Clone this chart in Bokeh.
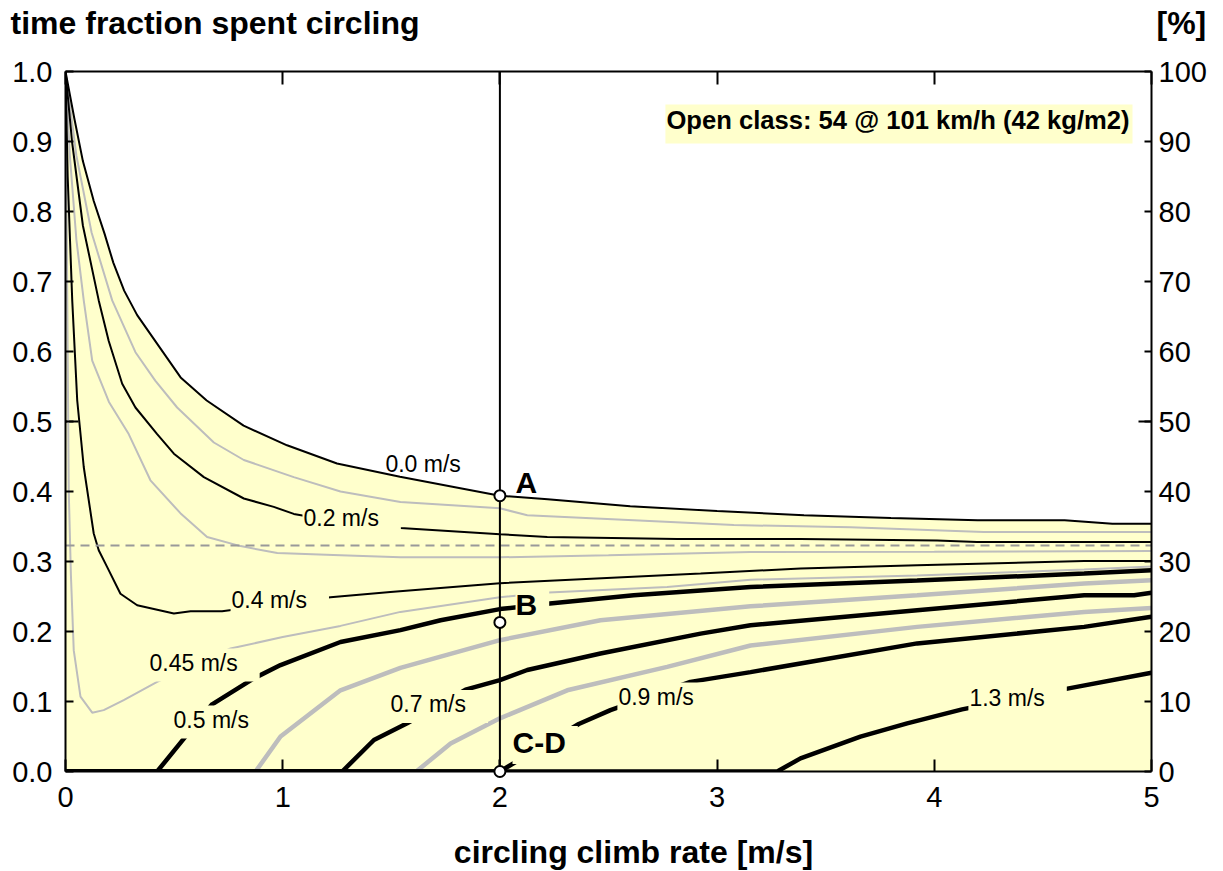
from math import pi
from bokeh.plotting import figure
from bokeh.models import Range1d, LinearAxis, FixedTicker, PrintfTickFormatter
from bokeh.core.properties import value
from bokeh.embed import file_html
from bokeh.resources import INLINE

FONT = "Liberation Sans"
FILL = "#FFFFCC"
GRAY = "#BDBDBD"

# ---------------- data ----------------
x_ticks = [0, 1, 2, 3, 4, 5]
y_ticks = [0.0, 0.1, 0.2, 0.3, 0.4, 0.5, 0.6, 0.7, 0.8, 0.9, 1.0]
pct_ticks = [0, 10, 20, 30, 40, 50, 60, 70, 80, 90, 100]
long_y_ticks = [0.5]

# 0.0 m/s (upper boundary of the shaded region)
x_00 = [0, 0.04, 0.08, 0.13, 0.18, 0.22, 0.27, 0.33, 0.53, 0.65, 0.82, 1.02, 1.25, 1.54, 1.83, 2.0, 2.22, 2.6, 3.0, 3.4, 3.8, 4.2, 4.6, 4.82, 5.0]
y_00 = [1.0, 0.934, 0.872, 0.815, 0.768, 0.727, 0.687, 0.652, 0.563, 0.530, 0.494, 0.466, 0.440, 0.421, 0.404, 0.394, 0.389, 0.379, 0.372, 0.366, 0.362, 0.359, 0.359, 0.354, 0.354]
# 0.1 m/s
x_01 = [0, 0.05, 0.12, 0.215, 0.322, 0.414, 0.514, 0.683, 0.821, 1.051, 1.266, 1.542, 2.0, 2.126, 2.616, 3.077, 3.614, 4.228, 5.0]
y_01 = [1.0, 0.88, 0.77, 0.673, 0.599, 0.558, 0.520, 0.470, 0.445, 0.4205, 0.40, 0.385, 0.376, 0.366, 0.359, 0.352, 0.349, 0.342, 0.342]
# 0.2 m/s
x_02 = [0, 0.03, 0.08, 0.153, 0.199, 0.261, 0.322, 0.422, 0.499, 0.637, 0.821, 0.959, 1.051, 1.25, 1.542, 2.0, 2.218, 2.816, 3.384, 4.013, 4.197, 5.0]
y_02 = [1.0, 0.9, 0.78, 0.673, 0.615, 0.554, 0.520, 0.482, 0.454, 0.4205, 0.39, 0.378, 0.368, 0.357, 0.348, 0.339, 0.335, 0.332, 0.332, 0.330, 0.328, 0.328]
# 0.3 m/s
x_03 = [0, 0.02, 0.05, 0.084, 0.123, 0.2, 0.291, 0.391, 0.529, 0.652, 0.806, 0.975, 1.266, 1.542, 2.0, 2.5, 3.154, 4.0, 5.0]
y_03 = [1.0, 0.88, 0.76, 0.673, 0.587, 0.528, 0.482, 0.416, 0.369, 0.335, 0.322, 0.312, 0.309, 0.306, 0.306, 0.309, 0.3135, 0.314, 0.315]
# 0.4 m/s
x_04 = [0, 0.01, 0.031, 0.054, 0.084, 0.13, 0.153, 0.192, 0.253, 0.33, 0.499, 0.576, 0.721, 1.22, 1.496, 2.0, 2.924, 3.384, 3.921, 4.69, 5.0]
y_04 = [1.0, 0.85, 0.673, 0.53, 0.435, 0.34, 0.316, 0.292, 0.254, 0.2375, 0.2257, 0.229, 0.229, 0.249, 0.2565, 0.269, 0.2827, 0.29, 0.2946, 0.3007, 0.3007]
# 0.45 m/s
x_045 = [0, 0.005, 0.01, 0.015, 0.025, 0.038, 0.069, 0.123, 0.176, 0.268, 0.422, 0.76, 1.0, 1.266, 1.542, 2.0, 2.225, 2.77, 3.154, 3.921, 4.69, 5.0]
y_045 = [1.0, 0.8, 0.6, 0.4, 0.28, 0.173, 0.107, 0.084, 0.0877, 0.102, 0.128, 0.1757, 0.192, 0.208, 0.228, 0.249, 0.2556, 0.2636, 0.274, 0.280, 0.2884, 0.293]
# 0.5 m/s
x_05 = [0, 0.422, 0.545, 0.675, 0.867, 0.99, 1.266, 1.542, 1.727, 2.0, 2.23, 2.616, 3.154, 3.921, 4.69, 5.0]
y_05 = [0.0, 0.0, 0.047, 0.096, 0.133, 0.152, 0.185, 0.202, 0.216, 0.232, 0.24, 0.2518, 0.2636, 0.273, 0.2827, 0.2874]
# 0.6 m/s
x_06 = [0, 0.875, 0.99, 1.266, 1.542, 1.727, 2.0, 2.463, 3.154, 3.921, 4.69, 5.0]
y_06 = [0.0, 0.0, 0.05, 0.116, 0.148, 0.164, 0.1876, 0.216, 0.236, 0.2518, 0.2685, 0.2732]
# 0.7 m/s
x_07 = [0, 1.274, 1.42, 1.573, 1.842, 2.0, 2.126, 2.463, 2.924, 3.154, 3.921, 4.69, 4.92, 5.0]
y_07 = [0.0, 0.0, 0.045, 0.069, 0.117, 0.1305, 0.145, 0.1686, 0.197, 0.209, 0.2304, 0.2518, 0.2518, 0.2553]
# 0.8 m/s
x_08 = [0, 1.615, 1.773, 2.0, 2.31, 2.77, 3.154, 3.921, 4.69, 5.0]
y_08 = [0.0, 0.0, 0.040, 0.0759, 0.116, 0.1495, 0.180, 0.2066, 0.228, 0.2336]
# 0.9 m/s
x_09 = [0, 2.0, 2.363, 2.509, 2.877, 3.154, 3.921, 4.69, 5.0]
y_09 = [0.0, 0.0, 0.0678, 0.0877, 0.128, 0.142, 0.183, 0.2066, 0.221]
# 1.3 m/s
x_13 = [0, 3.277, 3.384, 3.66, 3.875, 4.128, 4.619, 5.0]
y_13 = [0.0, 0.0, 0.0188, 0.0497, 0.0688, 0.0887, 0.1187, 0.141]

dash_y = 0.323          # horizontal reference level
sel_x = 2.0             # selected circling climb rate
marker_x = [2.0, 2.0, 2.0]
marker_y = [0.394, 0.213, 0.0]

# ---------------- figure ----------------
p = figure(width=1223, height=871, x_range=Range1d(0, 5), y_range=Range1d(0, 1),
           output_backend="svg", toolbar_location=None,
           min_border_left=65, min_border_right=72, min_border_top=71, min_border_bottom=100)
p.outline_line_color = None
p.xgrid.visible = False
p.ygrid.visible = False
p.background_fill_color = "white"
p.border_fill_color = "white"

def style_axis(ax, tick_in, show_labels=True, standoff=10):
    ax.axis_line_width = 2
    ax.axis_line_color = "black"
    ax.major_tick_line_width = 2
    ax.major_tick_line_color = "black"
    ax.major_tick_in = tick_in
    ax.major_tick_out = 0
    ax.minor_tick_line_color = None
    ax.major_label_standoff = standoff
    ax.major_label_text_font = FONT
    ax.major_label_text_font_size = "29px"
    ax.major_label_text_color = "black" if show_labels else None

xa = p.xaxis[0]
xa.ticker = FixedTicker(ticks=x_ticks)
style_axis(xa, 12, standoff=15)

ya = p.yaxis[0]
ya.ticker = FixedTicker(ticks=y_ticks)
ya.formatter = PrintfTickFormatter(format="%.1f")
style_axis(ya, 8, standoff=13)

p.extra_y_ranges = {"pct": Range1d(0, 100)}
ra = LinearAxis(y_range_name="pct", ticker=FixedTicker(ticks=pct_ticks))
style_axis(ra, 7, standoff=7)
p.add_layout(ra, "right")

ta = LinearAxis(ticker=FixedTicker(ticks=x_ticks))
style_axis(ta, 13, show_labels=False)
ta.major_label_text_font_size = "0px"
p.add_layout(ta, "above")

# shaded region
p.varea(x=x_00, y1=[0] * len(x_00), y2=y_00, fill_color=FILL)

# long ticks at 0.5 / 50 %
p.ray(x=[0] * len(long_y_ticks), y=long_y_ticks, length=13, length_units="screen",
      angle=0, line_color="black", line_width=2)
p.ray(x=[5] * len(long_y_ticks), y=long_y_ticks, length=13, length_units="screen",
      angle=pi, line_color="black", line_width=2)

# gray curves
for xs, ys, w in [(x_01, y_01, 2), (x_03, y_03, 2), (x_045, y_045, 2),
                  (x_06, y_06, 4.5), (x_08, y_08, 4.5)]:
    p.line(xs, ys, line_color=GRAY, line_width=w)
# black curves
for xs, ys, w in [(x_00, y_00, 2), (x_02, y_02, 2), (x_04, y_04, 2),
                  (x_05, y_05, 4.5), (x_07, y_07, 4.5), (x_09, y_09, 4.5), (x_13, y_13, 4.5)]:
    p.line(xs, ys, line_color="black", line_width=w)

# dashed reference line and vertical selection line
p.line([0, 5], [dash_y, dash_y], line_color="#999999", line_width=2, line_dash="9 6")
p.line([sel_x, sel_x], [0, 1], line_color="black", line_width=2)

# curve labels with masking background
bg_labels = [("0.2 m/s", 1.091, 0.359), ("0.4 m/s", 0.760, 0.242), ("0.45 m/s", 0.382, 0.152),
             ("0.5 m/s", 0.493, 0.0706), ("0.7 m/s", 1.492, 0.0927), ("0.9 m/s", 2.541, 0.1034),
             ("1.3 m/s", 4.157, 0.102)]
p.text(x=[b[1] for b in bg_labels], y=[b[2] for b in bg_labels], text=[b[0] for b in bg_labels],
       text_font=value(FONT), text_font_size="23px", text_color="black",
       text_align="left", text_baseline="middle",
       background_fill_color=FILL, padding=(1, 22, 1, 6))
p.text(x=[1.473], y=[0.440], text=["0.0 m/s"], text_font=value(FONT), text_font_size="23px",
       text_color="black", text_align="left", text_baseline="middle")

# point letters
p.text(x=[2.072], y=[0.413], text=["A"], text_font=value(FONT), text_font_size="30px",
       text_font_style="bold", text_color="black", text_align="left", text_baseline="middle")
p.text(x=[2.072, 2.058], y=[0.2347, 0.038], text=["B", "C-D"], text_font=value(FONT),
       text_font_size="30px", text_font_style="bold", text_color="black",
       text_align="left", text_baseline="middle",
       background_fill_color=FILL, padding=(0, 12, 0, 5))

pts = p.scatter(marker_x, marker_y, size=11, fill_color="white", line_color="black", line_width=2)
pts.level = "overlay"

# info box
p.text(x=[2.762], y=[0.925], text=["Open class: 54 @ 101 km/h (42 kg/m2)"],
       text_font=value(FONT), text_font_size="25.6px", text_font_style="bold", text_color="black",
       text_baseline="middle", text_align="left",
       background_fill_color=FILL, padding=(1, 3, 1, 10))

# titles as text glyphs at overlay level (not clipped to the frame)
for tx, ty, tt, tal in [(-0.253, 1.069, "time fraction spent circling", "left"),
                        (5.023, 1.069, "[%]", "left"),
                        (2.615, -0.115, "circling climb rate [m/s]", "center")]:
    r = p.text(x=[tx], y=[ty], text=[tt], text_font=value(FONT), text_font_size="32px",
               text_font_style="bold", text_color="black", text_align=tal, text_baseline="middle")
    r.level = "overlay"

open("out.html", "w").write(file_html(p, INLINE))
